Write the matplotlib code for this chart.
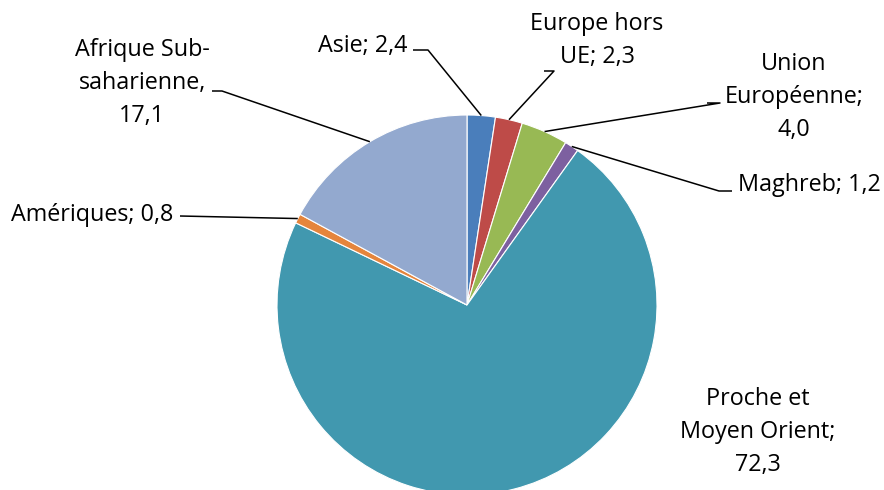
import numpy as np
import matplotlib
matplotlib.use("Agg")
import matplotlib.pyplot as plt

categories = ["Asie", "Europe hors UE", "Union Européenne", "Maghreb",
              "Proche et Moyen Orient", "Amériques", "Afrique Sub-saharienne"]
values = [2.4, 2.3, 4.0, 1.2, 72.3, 0.8, 17.1]
label_texts = ["Asie; 2,4", "Europe hors\nUE; 2,3", "Union\nEuropéenne;\n4,0",
               "Maghreb; 1,2", "Proche et\nMoyen Orient;\n72,3", "Amériques; 0,8",
               "Afrique Sub-\nsaharienne,\n17,1"]
colors = ["#4A7EBB", "#BE4B48", "#98B954", "#7D60A0", "#4198AF", "#E5853C", "#93A9CF"]

W, H = 884, 490
fig = plt.figure(figsize=(W / 100, H / 100), dpi=100)
ax = fig.add_axes([0, 0, 1, 1])

cx, cy, r = 467, H - 305, 190
ax.pie(values, colors=colors, startangle=90, counterclock=False,
       center=(cx, cy), radius=r, frame=True,
       wedgeprops=dict(linewidth=0.8, edgecolor="white"))
ax.set_xlim(0, W)
ax.set_ylim(0, H)
ax.set_aspect("equal")
ax.axis("off")

# label layout: (text x, text y in px, ha, leader elbow points in px or None)
layout = [
    (408, 46, "right", [(413, 50), (428, 50)]),
    (597, 41, "center", [(544, 71), (554, 71)]),
    (794, 97, "center", [(707, 103), (720, 103)]),
    (738, 185, "left", [(732, 191), (719, 191)]),
    (758, 432, "center", None),
    (173, 215, "right", [(180, 216)]),
    (142, 83, "center", [(212, 91), (222, 91)]),
]

total = sum(values)
cum = np.cumsum([0] + values)
font = dict(family=["Open Sans", "DejaVu Sans"], fontsize=16.8, color="black")
for i, (tx, ty, ha, elbow) in enumerate(layout):
    ax.text(tx, H - ty, label_texts[i], ha=ha, va="center",
            multialignment="center", linespacing=1.5, **font)
    if elbow is None:
        continue
    mid = (cum[i] + values[i] / 2) / total * 2 * np.pi
    ex = cx + r * np.sin(mid)
    ey = cy + r * np.cos(mid)
    xs = [p[0] for p in elbow] + [ex]
    ys = [H - p[1] for p in elbow] + [ey]
    ax.plot(xs, ys, color="black", lw=1.1, solid_capstyle="butt")

fig.savefig("out.png", dpi=100)
